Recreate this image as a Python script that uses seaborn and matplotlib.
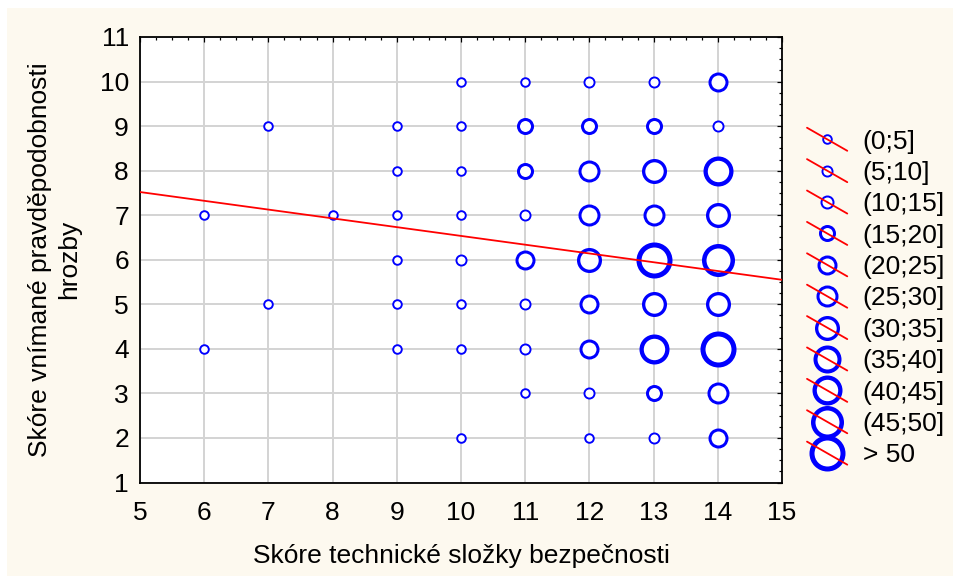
import numpy as np
import pandas as pd
import matplotlib
matplotlib.use("Agg")
import matplotlib.pyplot as plt
import seaborn as sns
from matplotlib.lines import Line2D
from matplotlib.legend_handler import HandlerBase
from matplotlib.patches import Rectangle
from matplotlib.ticker import MultipleLocator

# ---------------- data ----------------
x_score = [6, 6,
           7, 7,
           8,
           9, 9, 9, 9, 9, 9,
           10, 10, 10, 10, 10, 10, 10, 10,
           11, 11, 11, 11, 11, 11, 11, 11,
           12, 12, 12, 12, 12, 12, 12, 12, 12,
           13, 13, 13, 13, 13, 13, 13, 13, 13,
           14, 14, 14, 14, 14, 14, 14, 14, 14]
y_score = [7, 4,
           9, 5,
           7,
           9, 8, 7, 6, 5, 4,
           10, 9, 8, 7, 6, 5, 4, 2,
           10, 9, 8, 7, 6, 5, 4, 3,
           10, 9, 8, 7, 6, 5, 4, 3, 2,
           10, 9, 8, 7, 6, 5, 4, 3, 2,
           10, 9, 8, 7, 6, 5, 4, 3, 2]
# frequency class index (1 = (0;5], ..., 11 = > 50)
count_class = [1, 1,
               1, 1,
               1,
               1, 1, 1, 1, 1, 1,
               1, 1, 1, 1, 2, 1, 1, 1,
               1, 4, 4, 2, 5, 2, 2, 1,
               2, 4, 6, 6, 7, 5, 5, 2, 1,
               2, 4, 7, 6, 11, 7, 9, 4, 2,
               5, 2, 9, 7, 10, 7, 11, 6, 5]
class_labels = ["(0;5]", "(5;10]", "(10;15]", "(15;20]", "(20;25]", "(25;30]",
                "(30;35]", "(35;40]", "(40;45]", "(45;50]", "> 50"]
reg_x = [5, 15]
reg_y = [7.52, 5.55]
x_ticks = list(range(5, 16))
y_ticks = list(range(1, 12))
x_label = "Skóre technické složky bezpečnosti"
y_label = "Skóre vnímané pravděpodobnosti\nhrozby"

# ---------------- style ----------------
DPI = 100
PX = 72.0 / DPI  # points per pixel
outer_px = [10.5, 12, 14, 17, 20, 22, 25, 28, 30, 33, 36]
lw_px = [1.9, 1.9, 2.0, 3.0, 3.0, 3.0, 3.3, 4.0, 4.3, 4.5, 5.0]
BLUE = "#0000FF"
CREAM = "#FDF9EF"
FS = 19

df = pd.DataFrame({"x": x_score, "y": y_score, "cls": count_class})

sns.set_theme(style="white")
plt.rcParams["font.family"] = ["Liberation Sans", "DejaVu Sans"]

fig = plt.figure(figsize=(954 / DPI, 576 / DPI), dpi=DPI)
fig.patch.set_facecolor("white")
fig.patches.append(Rectangle((7 / 954, 0), 1 - 7 / 954, 1 - 8 / 576,
                             transform=fig.transFigure, facecolor=CREAM,
                             edgecolor="none", zorder=-5))
ax = fig.add_axes([140 / 954, 1 - 482.5 / 576, 642 / 954, 445.5 / 576])
ax.set_zorder(1)
ax.set_facecolor("white")

for k in range(1, len(class_labels) + 1):
    sub = df[df["cls"] == k]
    if sub.empty:
        continue
    d_pt = (outer_px[k - 1] - lw_px[k - 1]) * PX
    sns.scatterplot(data=sub, x="x", y="y", ax=ax, s=d_pt ** 2,
                    color="white", edgecolor=BLUE,
                    linewidth=lw_px[k - 1] * PX, zorder=3, legend=False)

sns.lineplot(x=reg_x, y=reg_y, ax=ax, color="red", linewidth=1.8 * PX,
             zorder=4, legend=False)

ax.set_xlim(5, 15)
ax.set_ylim(1, 11)
ax.set_xticks(x_ticks)
ax.set_yticks(y_ticks)
ax.xaxis.set_minor_locator(MultipleLocator(0.25))
ax.yaxis.set_minor_locator(MultipleLocator(0.25))
ax.grid(True, which="major", color="#D4D4D4", linewidth=2 * PX, zorder=0)
ax.set_axisbelow(True)
ax.tick_params(axis="both", which="both", direction="in", top=True, right=True,
               color="black", labelsize=FS, labelcolor="black")
ax.tick_params(axis="both", which="major", length=5 * PX, width=1.2 * PX)
ax.tick_params(axis="both", which="minor", length=3 * PX, width=1.2 * PX)
ax.tick_params(axis="x", which="major", pad=13)
ax.tick_params(axis="y", which="major", pad=8)
for sp in ax.spines.values():
    sp.set_color("black")
    sp.set_linewidth(1.8 * PX)

ax.set_xlabel(x_label, fontsize=FS, color="black", labelpad=14)
ax.set_ylabel(y_label, fontsize=FS, color="black", labelpad=13, linespacing=1.3)


# ---------------- legend ----------------
class HandlerCircleSlash(HandlerBase):
    def create_artists(self, legend, orig_handle, xdescent, ydescent,
                       width, height, fontsize, trans):
        x0 = -xdescent
        x1 = x0 + width
        cy = -ydescent + height / 2.0
        cx = (x0 + x1) / 2.0
        dy = 8.3
        mk = Line2D([cx], [cy], marker="o", linestyle="none",
                    markersize=orig_handle.get_markersize(),
                    markeredgewidth=orig_handle.get_markeredgewidth(),
                    markerfacecolor="white", markeredgecolor=BLUE,
                    transform=trans)
        ln = Line2D([x0, x1], [cy + dy, cy - dy], color="red",
                    linewidth=1.8 * PX, transform=trans)
        return [mk, ln]


handles = []
for k in range(len(class_labels)):
    handles.append(Line2D([], [], marker="o", linestyle="none",
                          markersize=(outer_px[k] - lw_px[k]) * PX,
                          markeredgewidth=lw_px[k] * PX))

fig.legend(handles, class_labels, handler_map={Line2D: HandlerCircleSlash()},
           loc="upper left", bbox_to_anchor=(807 / 954, 1 - 129.5 / 576),
           frameon=False, fontsize=FS, handlelength=29 / FS,
           handletextpad=11 / FS, labelspacing=0.28, borderpad=0,
           borderaxespad=0, labelcolor="black")

fig.savefig("out.png", dpi=DPI, facecolor=fig.get_facecolor())
